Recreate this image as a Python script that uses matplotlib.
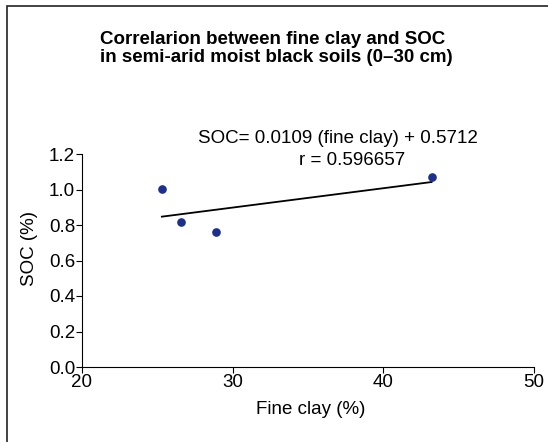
import matplotlib.pyplot as plt
from matplotlib.patches import Rectangle
import numpy as np

plt.rcParams['font.family'] = ['Liberation Sans', 'DejaVu Sans']

# data
fine_clay = [25.3, 26.6, 28.9, 43.2]
soc = [1.004, 0.815, 0.759, 1.072]
slope = 0.0109
intercept = 0.5712
r_value = 0.596657

x_ticks = [20, 30, 40, 50]
y_ticks = [0.0, 0.2, 0.4, 0.6, 0.8, 1.0, 1.2]

W, H = 548, 442
fs = 13.5

fig = plt.figure(figsize=(W / 100, H / 100), dpi=100)
ax = fig.add_axes([82 / W, 1 - 367 / H, (534 - 82) / W, (367 - 154) / H])

# frame around the panel (cut at right and bottom edge)
fig.patches.append(Rectangle((7 / W, -0.1), 1.2, 1 - 6 / H + 0.1,
                             transform=fig.transFigure, fill=False,
                             edgecolor='#222222', linewidth=1.2))

ax.scatter(fine_clay, soc, s=27, color='#1c2f8c', zorder=3)
xfit = np.array([min(fine_clay), max(fine_clay)])
ax.plot(xfit, slope * xfit + intercept, color='black', linewidth=1.3)

ax.set_xlim(20, 50)
ax.set_ylim(0, 1.2)
ax.set_xticks(x_ticks)
ax.set_yticks(y_ticks)
ax.set_yticklabels([f'{v:.1f}' for v in y_ticks])
ax.tick_params(labelsize=fs, length=4, width=0.8, pad=1)
for side in ['top', 'right']:
    ax.spines[side].set_visible(False)
ax.spines['left'].set_linewidth(0.8)
ax.spines['bottom'].set_linewidth(0.8)

ax.set_xlabel('Fine clay (%)', fontsize=fs)
ax.xaxis.set_label_coords(0.505, -0.16)
fig.text(30 / W, 1 - 248 / H, 'SOC (%)', rotation=90,
         ha='center', va='center', fontsize=fs)

fig.text(198 / W, 1 - 143 / H, f'SOC= {slope} (fine clay) + {intercept}',
         ha='left', va='baseline', fontsize=fs)
fig.text(299 / W, 1 - 165 / H, f'r = {r_value}',
         ha='left', va='baseline', fontsize=fs)

fig.text(100 / W, 1 - 44 / H, 'Correlarion between fine clay and SOC',
         ha='left', va='baseline', fontsize=fs, fontweight='bold')
fig.text(100 / W, 1 - 62 / H, 'in semi-arid moist black soils (0\u201330 cm)',
         ha='left', va='baseline', fontsize=fs, fontweight='bold')

fig.savefig('out.png', dpi=100)
